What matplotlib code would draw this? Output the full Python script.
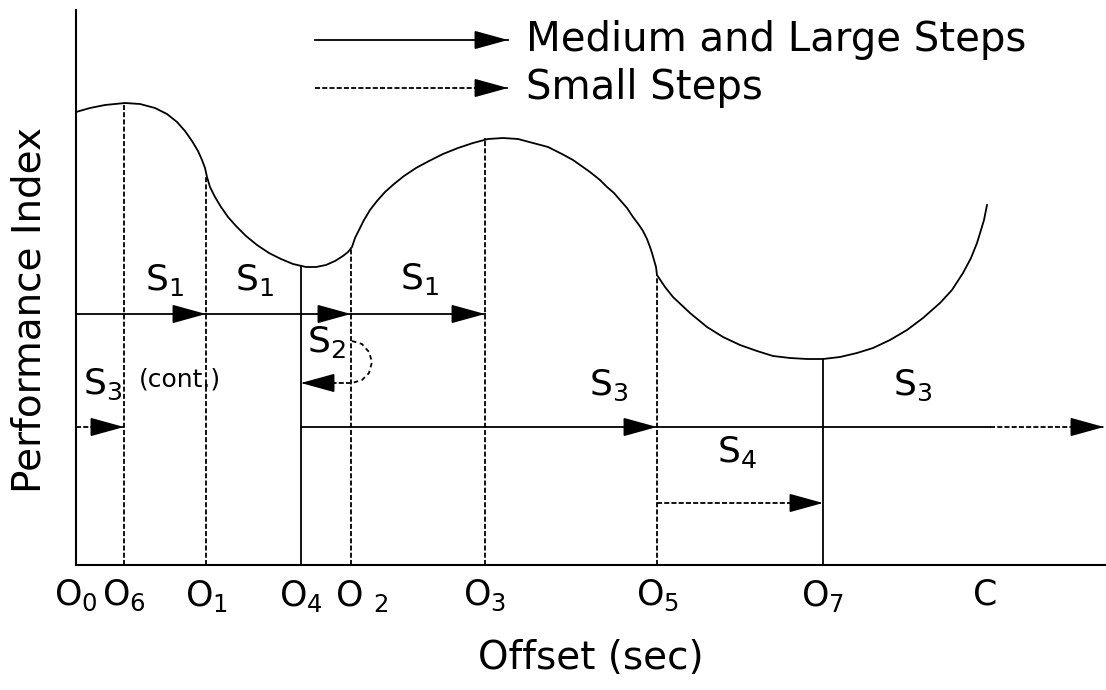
import matplotlib
matplotlib.use('Agg')

import matplotlib.pyplot as plt
from matplotlib.transforms import ScaledTranslation

plt.rcParams['font.family'] = 'DejaVu Sans'
plt.rcParams['mathtext.fontset'] = 'dejavusans'

# ------------------ DATA ------------------

# offset positions on the x axis
offset_names = ['O0', 'O6', 'O1', 'O4', 'O2', 'O3', 'O5', 'O7', 'C']
offset_x = [0, 48, 130, 225, 275, 409, 581, 747, 909]
offset_labels = [r'O$_0$', r'O$_6$', r'O$_1$', r'O$_4$', r'O $_2$',
                 r'O$_3$', r'O$_5$', r'O$_7$', 'C']

# performance index where each offset meets the curve
drop_x = [48, 130, 225, 275, 409, 581, 747]
drop_y = [462, 388, 299, 318, 427, 290, 206]
drop_solid = [False, False, True, False, False, False, True]

# performance index curve
curve_x = [0, 14, 29, 49, 64, 79, 91, 101, 109, 116, 122, 126, 129, 131,
           134, 139, 145, 152, 160, 170, 181, 193, 205, 217, 230, 240, 250,
           259, 267, 272, 276,
           279, 283, 288, 294, 301, 309, 318, 328, 340, 353, 367, 382, 397,
           412, 427, 442, 457, 472, 486, 497, 514, 524, 531, 538, 544, 551,
           557, 563, 567, 571, 574, 576, 578, 580, 581,
           589, 597, 614, 631, 647, 664, 681, 697, 714, 731, 747, 764,
           781, 797, 814, 831, 847, 864, 876, 887, 895, 901, 905, 908, 911]
curve_y = [453, 457, 460, 462, 461, 457, 451, 443, 434, 424, 414, 405, 397, 388,
           378, 368, 358, 348, 339, 329, 320, 312, 306, 301, 298, 298, 300,
           304, 309, 313, 318,
           327, 335, 345, 355, 364, 373, 381, 389, 397, 404, 411, 417, 422,
           426, 427, 426, 422, 418, 411, 405, 393, 385, 378, 372, 365, 357,
           348, 340, 334, 326, 318, 312, 305, 298, 290,
           278, 268, 252, 238, 228, 220, 214, 209, 207, 206, 206, 208,
           212, 217, 225, 235, 247, 262, 275, 292, 307, 322, 335, 345, 360]

# step arrows: (start, end, level, dashed)
steps = [
    (0, 130, 251, False),     # S1
    (130, 275, 251, False),   # S1
    (275, 409, 251, False),   # S1
    (275, 225, 182, True),    # S2 back
    (0, 48, 138, True),       # S3 (cont.)
    (225, 581, 138, False),   # S3
    (581, 747, 62, True),     # S4
]
# long S3 step running off the chart: solid part then dashed tail
s3_solid = (581, 914, 138)
s3_tail = (914, 1028, 138)

# S2 turn-around loop
loop_x = [276, 286, 293, 296, 293, 286, 276]
loop_y = [224, 221, 213, 203, 192, 185, 182]

step_labels = [
    (89, 285, r'S$_1$'),
    (179, 285, r'S$_1$'),
    (344, 286, r'S$_1$'),
    (250, 223, r'S$_2$'),
    (27, 181, r'S$_3$'),
    (533, 180, r'S$_3$'),
    (661, 113, r'S$_4$'),
    (837, 180, r'S$_3$'),
]

DASH = (0, (2.8, 1.2))
LW = 1.3


def head(ax, x_tip, y, direction):
    # filled arrowhead only
    ax.annotate('', xy=(x_tip, y), xytext=(x_tip - 30 * direction, y),
                arrowprops=dict(arrowstyle='-|>,head_length=21,head_width=5.8',
                                mutation_scale=1, shrinkA=0, shrinkB=0,
                                lw=LW, color='black'),
                annotation_clip=False)


fig = plt.figure(figsize=(11.06, 6.9), dpi=100)
ax = fig.add_axes([76 / 1106, 125 / 690, 1030 / 1106, 555 / 690])
ax.set_xlim(0, 1030)
ax.set_ylim(0, 555)

for s in ['top', 'right']:
    ax.spines[s].set_visible(False)
for s in ['left', 'bottom']:
    ax.spines[s].set_linewidth(1.5)

ax.set_yticks([])
ax.set_xticks(offset_x)
ax.set_xticklabels(offset_labels, fontsize=25)
ax.tick_params(axis='x', length=0, pad=9)
# "O 2" sits a little right of its line
lab = ax.get_xticklabels()[4]
lab.set_transform(lab.get_transform() + ScaledTranslation(8 / 72, 0, fig.dpi_scale_trans))

ax.set_xlabel('Offset (sec)', fontsize=28, labelpad=18)
ax.set_ylabel('Performance Index', fontsize=28)
ax.yaxis.set_label_coords(-0.027, 0.459)

# curve
ax.plot(curve_x, curve_y, color='black', lw=LW, solid_joinstyle='round')

# drop lines
for x, y, solid in zip(drop_x, drop_y, drop_solid):
    ax.plot([x, x], [0, y], color='black', lw=LW,
            linestyle='-' if solid else DASH)

# steps
for x0, x1, y, dashed in steps:
    ax.plot([x0, x1], [y, y], color='black', lw=LW,
            linestyle=DASH if dashed else '-')
    head(ax, x1, y, 1 if x1 > x0 else -1)

ax.plot([s3_solid[0], s3_solid[1]], [s3_solid[2]] * 2, color='black', lw=LW)
ax.plot([s3_tail[0], s3_tail[1]], [s3_tail[2]] * 2, color='black', lw=LW,
        linestyle=DASH, clip_on=False)
head(ax, s3_tail[1], s3_tail[2], 1)

ax.plot(loop_x, loop_y, color='black', lw=LW, linestyle=(0, (2.5, 2)))

for x, y, t in step_labels:
    ax.text(x, y, t, fontsize=26, ha='center', va='center')
ax.text(104, 186, '(cont.)', fontsize=18, ha='center', va='center')

# legend
ax.plot([239, 432], [525, 525], color='black', lw=LW)
head(ax, 432, 525, 1)
ax.text(450, 525, 'Medium and Large Steps', fontsize=29, va='center')
ax.plot([239, 432], [477, 477], color='black', lw=LW, linestyle=DASH)
head(ax, 432, 477, 1)
ax.text(450, 477, 'Small Steps', fontsize=29, va='center')

plt.savefig('out.png', dpi=100)
plt.close()
